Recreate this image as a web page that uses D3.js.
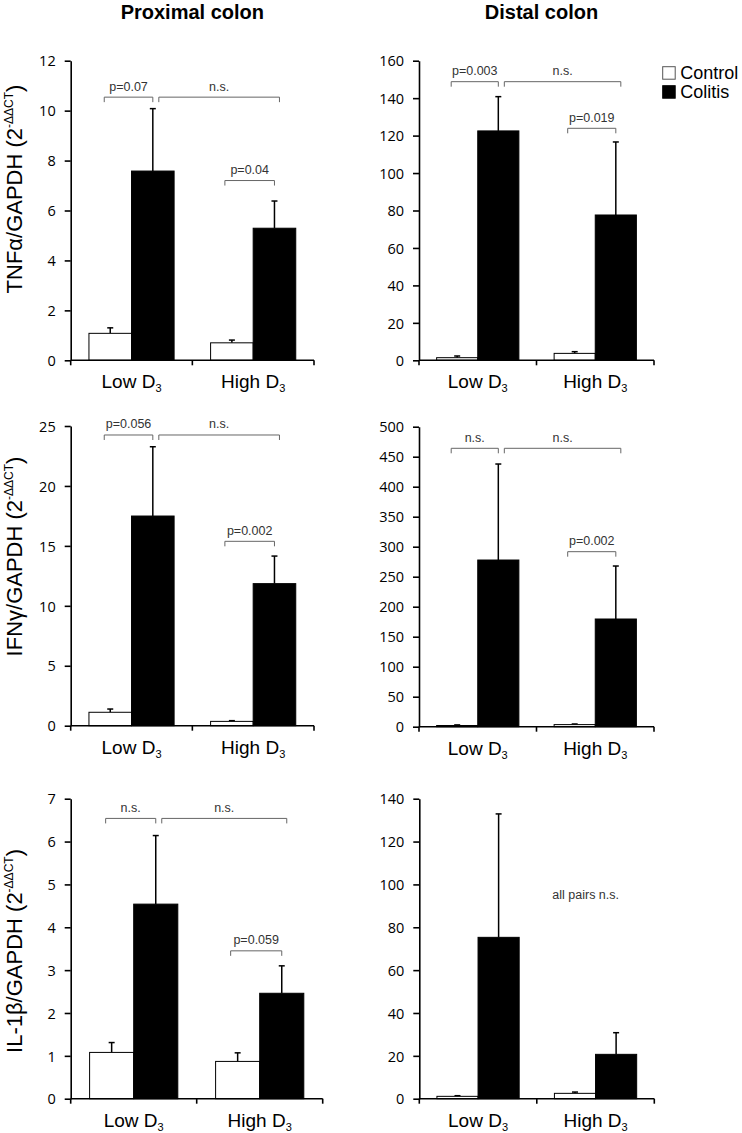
<!DOCTYPE html>
<html>
<head>
<meta charset="utf-8">
<script src="https://cdn.jsdelivr.net/npm/d3@7"></script>
<style>
  html, body { margin: 0; padding: 0; background: #fff; }
  svg { display: block; }
  .tick text { font-family: "Open Sans", sans-serif; font-size: 14.5px; fill: #000; }
</style>
</head>
<body>
<svg id="chart" width="742" height="1133"></svg>
<script>
// ---------------- DATA ----------------
const groups = ["Low", "High"];
const seriesNames = ["Control", "Colitis"];
const columnTitles = ["Proximal colon", "Distal colon"];

const tnfProxControl = [1.08, 0.70],  tnfProxControlSem = [0.22, 0.11];
const tnfProxColitis = [7.58, 5.29],  tnfProxColitisSem = [2.50, 1.09];
const tnfDistControl = [1.4, 3.7],    tnfDistControlSem = [0.9, 0.9];
const tnfDistColitis = [122.5, 77.6], tnfDistColitisSem = [18.3, 39.0];

const ifnProxControl = [1.12, 0.36],  ifnProxControlSem = [0.27, 0.06];
const ifnProxColitis = [17.49, 11.85], ifnProxColitisSem = [5.78, 2.30];
const ifnDistControl = [2.0, 3.5],    ifnDistControlSem = [1.0, 1.0];
const ifnDistColitis = [277.8, 179.5], ifnDistColitisSem = [160.0, 88.3];

const il1ProxControl = [1.08, 0.87],  il1ProxControlSem = [0.23, 0.20];
const il1ProxColitis = [4.54, 2.46],  il1ProxColitisSem = [1.60, 0.64];
const il1DistControl = [1.1, 2.5],    il1DistControlSem = [0.3, 0.6];
const il1DistColitis = [75.3, 20.7],  il1DistColitisSem = [57.6, 10.1];

const tnfProxTicks = [0, 2, 4, 6, 8, 10, 12];
const tnfDistTicks = [0, 20, 40, 60, 80, 100, 120, 140, 160];
const ifnProxTicks = [0, 5, 10, 15, 20, 25];
const ifnDistTicks = [0, 50, 100, 150, 200, 250, 300, 350, 400, 450, 500];
const il1ProxTicks = [0, 1, 2, 3, 4, 5, 6, 7];
const il1DistTicks = [0, 20, 40, 60, 80, 100, 120, 140];

const yTitleMain = ["TNF\u03B1/GAPDH (2", "IFN\u03B3/GAPDH (2", "IL-1\u03B2/GAPDH (2"];
const yTitleSup = "-\u0394\u0394CT";

// brackets: from [group, series] to [group, series], level (data units), label
const tnfProxBrackets = [
  {from: [0, 0], to: [0, 1], level: 10.54, label: "p=0.07", kind: "a"},
  {from: [0, 1], to: [1, 1], level: 10.54, label: "n.s.", kind: "b"},
  {from: [1, 0], to: [1, 1], level: 7.2, label: "p=0.04", kind: "c"}];
const tnfDistBrackets = [
  {from: [0, 0], to: [0, 1], level: 148.8, label: "p=0.003", kind: "a"},
  {from: [0, 1], to: [1, 1], level: 148.8, label: "n.s.", kind: "b"},
  {from: [1, 0], to: [1, 1], level: 123.9, label: "p=0.019", kind: "c"}];
const ifnProxBrackets = [
  {from: [0, 0], to: [0, 1], level: 24.25, label: "p=0.056", kind: "a"},
  {from: [0, 1], to: [1, 1], level: 24.25, label: "n.s.", kind: "b"},
  {from: [1, 0], to: [1, 1], level: 15.38, label: "p=0.002", kind: "c"}];
const ifnDistBrackets = [
  {from: [0, 0], to: [0, 1], level: 464, label: "n.s.", kind: "a"},
  {from: [0, 1], to: [1, 1], level: 464, label: "n.s.", kind: "b"},
  {from: [1, 0], to: [1, 1], level: 291.7, label: "p=0.002", kind: "c"}];
const il1ProxBrackets = [
  {from: [0, 0], to: [0, 1], level: 6.54, label: "n.s.", kind: "a"},
  {from: [0, 1], to: [1, 1], level: 6.54, label: "n.s.", kind: "b"},
  {from: [1, 0], to: [1, 1], level: 3.45, label: "p=0.059", kind: "c"}];
const il1DistBrackets = [];
const il1DistNote = "all pairs n.s.";

// ---------------- LAYOUT ----------------
const panels = [
  {x0: 70.7, x1: 314, y0: 60.7, y1: 360.3, ticks: tnfProxTicks, control: tnfProxControl, controlSem: tnfProxControlSem, colitis: tnfProxColitis, colitisSem: tnfProxColitisSem, brackets: tnfProxBrackets, title: 0, yTitleCy: 189},
  {x0: 419, x1: 654, y0: 60.7, y1: 360.3, ticks: tnfDistTicks, control: tnfDistControl, controlSem: tnfDistControlSem, colitis: tnfDistColitis, colitisSem: tnfDistColitisSem, brackets: tnfDistBrackets},
  {x0: 70.7, x1: 314, y0: 426, y1: 725.7, ticks: ifnProxTicks, control: ifnProxControl, controlSem: ifnProxControlSem, colitis: ifnProxColitis, colitisSem: ifnProxColitisSem, brackets: ifnProxBrackets, title: 1, yTitleCy: 556.5},
  {x0: 419, x1: 654, y0: 426.7, y1: 726.7, ticks: ifnDistTicks, control: ifnDistControl, controlSem: ifnDistControlSem, colitis: ifnDistColitis, colitisSem: ifnDistColitisSem, brackets: ifnDistBrackets},
  {x0: 70.7, x1: 322.7, y0: 798.7, y1: 1098.7, ticks: il1ProxTicks, control: il1ProxControl, controlSem: il1ProxControlSem, colitis: il1ProxColitis, colitisSem: il1ProxColitisSem, brackets: il1ProxBrackets, title: 2, yTitleCy: 951},
  {x0: 419.3, x1: 654.3, y0: 798.7, y1: 1098.7, ticks: il1DistTicks, control: il1DistControl, controlSem: il1DistControlSem, colitis: il1DistColitis, colitisSem: il1DistColitisSem, brackets: il1DistBrackets, note: il1DistNote}
];

const svg = d3.select("#chart");
const bracketOffsets = {a: [-6, 0], b: [6, 5], c: [-7, 0]};

panels.forEach(p => {
  const g = svg.append("g");
  const x = d3.scaleBand().domain(groups).range([p.x0, p.x1]).paddingInner(0).paddingOuter(0);
  const xs = d3.scaleBand().domain(seriesNames).range([0, x.bandwidth() * 0.70]);
  const groupOffset = x.bandwidth() * 0.15;
  const y = d3.scaleLinear().domain([0, d3.max(p.ticks)]).range([p.y1, p.y0]);

  const barData = [];
  groups.forEach((gr, gi) => {
    barData.push({gi, si: 0, group: gr, series: "Control", v: p.control[gi], e: p.controlSem[gi]});
    barData.push({gi, si: 1, group: gr, series: "Colitis", v: p.colitis[gi], e: p.colitisSem[gi]});
  });
  const bx = d => x(d.group) + groupOffset + xs(d.series);
  const bc = (gi, si) => x(groups[gi]) + groupOffset + xs(seriesNames[si]) + xs.bandwidth() / 2;

  // error bars (drawn first, behind bars)
  const eb = g.append("g");
  barData.forEach(d => {
    const cx = bx(d) + xs.bandwidth() / 2;
    eb.append("line").attr("x1", cx).attr("x2", cx).attr("y1", y(d.v)).attr("y2", y(d.v + d.e))
      .attr("stroke", "#000").attr("stroke-width", 1.5);
    eb.append("line").attr("x1", cx - 3).attr("x2", cx + 3).attr("y1", y(d.v + d.e)).attr("y2", y(d.v + d.e))
      .attr("stroke", "#000").attr("stroke-width", 1.5);
  });

  // bars
  g.append("g").selectAll("rect").data(barData).join("rect")
    .attr("x", bx).attr("width", xs.bandwidth())
    .attr("y", d => y(d.v)).attr("height", d => y(0) - y(d.v))
    .attr("fill", d => d.si === 0 ? "#fff" : "#000")
    .attr("stroke", "#000").attr("stroke-width", 1);

  // y axis
  const ya = g.append("g").attr("transform", `translate(${p.x0},0)`)
    .call(d3.axisLeft(y).tickValues(p.ticks).tickSize(6).tickSizeOuter(0).tickPadding(9).tickFormat(d3.format("d")));
  ya.selectAll("path, line").attr("stroke", "#000").attr("stroke-width", 1.6);
  ya.selectAll("text").attr("dy", "0.36em");

  // x axis (line with ticks at band boundaries)
  const xa = g.append("g");
  xa.append("line").attr("x1", p.x0).attr("x2", p.x1).attr("y1", y(0)).attr("y2", y(0))
    .attr("stroke", "#000").attr("stroke-width", 1.6);
  const bounds = groups.map(gr => x(gr)).concat([x(groups[groups.length - 1]) + x.bandwidth()]);
  xa.selectAll(".xt").data(bounds).join("line")
    .attr("x1", d => d).attr("x2", d => d).attr("y1", y(0)).attr("y2", y(0) + 5)
    .attr("stroke", "#000").attr("stroke-width", 1.6);
  groups.forEach(gr => {
    const t = xa.append("text").attr("x", x(gr) + x.bandwidth() / 2).attr("y", p.y1 + 28)
      .attr("text-anchor", "middle").attr("font-family", "Liberation Sans, Arial, sans-serif")
      .attr("font-size", 19).attr("fill", "#000");
    t.append("tspan").text(gr + " D");
    t.append("tspan").attr("font-size", 11).attr("dy", 4).text("3");
  });

  // brackets
  p.brackets.forEach(b => {
    const off = bracketOffsets[b.kind];
    const x1 = bc(b.from[0], b.from[1]) + off[0];
    const x2 = bc(b.to[0], b.to[1]) + off[1];
    const yy = y(b.level);
    g.append("path").attr("d", `M${x1},${yy + 5}V${yy}H${x2}V${yy + 5}`)
      .attr("fill", "none").attr("stroke", "#666").attr("stroke-width", 1);
    g.append("text").attr("x", (x1 + x2) / 2).attr("y", yy - 6.5).attr("text-anchor", "middle")
      .attr("font-family", "Liberation Sans, Arial, sans-serif").attr("font-size", 12.5).attr("fill", "#333")
      .text(b.label);
  });
  if (p.note) {
    g.append("text").attr("x", p.x0 + (p.x1 - p.x0) * 0.708).attr("y", y(93.2)).attr("text-anchor", "middle")
      .attr("font-family", "Liberation Sans, Arial, sans-serif").attr("font-size", 12.5).attr("fill", "#333")
      .text(p.note);
  }

  // y title
  if (p.title !== undefined) {
    const t = svg.append("text").attr("transform", `translate(21.5,${p.yTitleCy}) rotate(-90)`)
      .attr("text-anchor", "middle").attr("font-family", "Liberation Sans, Arial, sans-serif")
      .attr("font-size", 22).attr("fill", "#000");
    t.append("tspan").text(yTitleMain[p.title]);
    t.append("tspan").attr("font-size", 12).attr("dy", -9).text(yTitleSup);
    t.append("tspan").attr("dy", 9).text(")");
  }
});

// column titles
svg.append("text").attr("x", (panels[0].x0 + panels[0].x1) / 2).attr("y", 19).attr("text-anchor", "middle")
  .attr("font-family", "Liberation Sans, Arial, sans-serif").attr("font-weight", "bold").attr("font-size", 20)
  .text(columnTitles[0]);
svg.append("text").attr("x", (panels[1].x0 + panels[1].x1) / 2 + 5).attr("y", 19).attr("text-anchor", "middle")
  .attr("font-family", "Liberation Sans, Arial, sans-serif").attr("font-weight", "bold").attr("font-size", 20)
  .text(columnTitles[1]);

// legend
const legend = svg.append("g").attr("transform", "translate(662.7,66.7)");
seriesNames.forEach((s, i) => {
  legend.append("rect").attr("x", 0).attr("y", i * 19).attr("width", 12.5).attr("height", 12.5)
    .attr("fill", i === 0 ? "#fff" : "#000").attr("stroke", i === 0 ? "#555" : "#000").attr("stroke-width", 1);
  legend.append("text").attr("x", 17.5).attr("y", i * 19 + 12.5)
    .attr("font-family", "Liberation Sans, Arial, sans-serif").attr("font-size", 18).attr("fill", "#000")
    .text(s);
});
</script>
</body>
</html>
